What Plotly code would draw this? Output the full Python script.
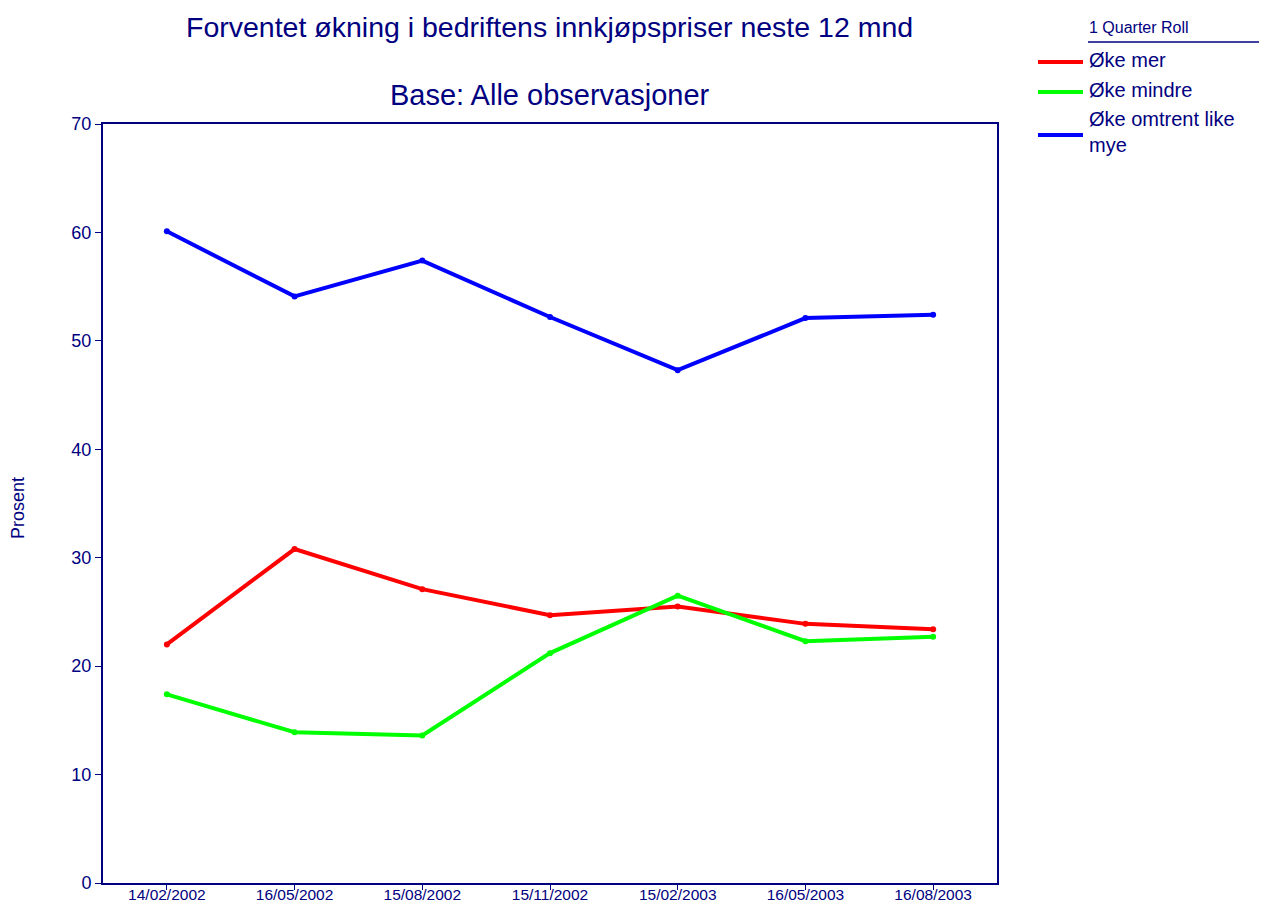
import plotly.graph_objects as go

dates = ["14/02/2002", "16/05/2002", "15/08/2002", "15/11/2002", "15/02/2003", "16/05/2003", "16/08/2003"]
oke_mer = [22.0, 30.8, 27.1, 24.7, 25.5, 23.9, 23.4]
oke_mindre = [17.4, 13.9, 13.6, 21.2, 26.5, 22.3, 22.7]
oke_like = [60.1, 54.1, 57.4, 52.2, 47.3, 52.1, 52.4]
y_ticks = [0, 10, 20, 30, 40, 50, 60, 70]
series_names = ["Øke mer", "Øke mindre", "Øke omtrent like<br>mye"]
series_colors = ["#ff0000", "#00ff00", "#0000ff"]

NAVY = "#000080"
FONT = "Liberation Sans, Arial, sans-serif"

# page body has an 8px margin; compensate so plot area sits at x 103-997, y 124-883
OFF = 8
W, H = 1267 - OFF, 905 - OFF
L, T, R, B = 103 - OFF, 124 - OFF, 1267 - 997, 905 - 883
PW, PH = 997 - 103, 883 - 124


def px(x):
    return (x - 103) / PW


def py(y):
    return (883 - y) / PH


fig = go.Figure()
for name, vals, col in zip(series_names, [oke_mer, oke_mindre, oke_like], series_colors):
    fig.add_trace(go.Scatter(x=list(range(len(dates))), y=vals, name=name,
                             mode="lines+markers",
                             line=dict(color=col, width=4),
                             marker=dict(color=col, size=6),
                             showlegend=False))

annotations = [
    dict(text="Forventet økning i bedriftens innkjøpspriser neste 12 mnd",
         xref="paper", yref="paper", x=px(549), y=py(27), xanchor="center", yanchor="middle",
         showarrow=False, font=dict(size=28.5, color=NAVY)),
    dict(text="Base: Alle observasjoner",
         xref="paper", yref="paper", x=px(550), y=py(95), xanchor="center", yanchor="middle",
         showarrow=False, font=dict(size=29, color=NAVY)),
    dict(text="1 Quarter Roll", xref="paper", yref="paper",
         x=px(1087), y=py(27), xanchor="left", yanchor="middle",
         showarrow=False, font=dict(size=16, color=NAVY)),
    dict(text="Prosent", xref="paper", yref="paper", textangle=-90,
         x=px(18), y=py(508), xanchor="center", yanchor="middle",
         showarrow=False, font=dict(size=18, color=NAVY)),
]
shapes = [dict(type="line", xref="paper", yref="paper",
               x0=px(1088), x1=px(1267), y0=py(42), y1=py(42),
               line=dict(color=NAVY, width=1.5))]

legend_line_y = [62, 92, 135]
legend_text_y = [60, 90, 132]
for name, col, ly, ty in zip(series_names, series_colors, legend_line_y, legend_text_y):
    shapes.append(dict(type="line", xref="paper", yref="paper",
                       x0=px(1038), x1=px(1083), y0=py(ly), y1=py(ly),
                       line=dict(color=col, width=4)))
    annotations.append(dict(text=name, xref="paper", yref="paper",
                            x=px(1087), y=py(ty), xanchor="left", yanchor="middle",
                            align="left", showarrow=False,
                            font=dict(size=20, color=NAVY)))

fig.update_layout(
    width=W, height=H,
    margin=dict(l=L, r=R, t=T, b=B),
    paper_bgcolor="white", plot_bgcolor="white",
    font=dict(family=FONT, color=NAVY),
    showlegend=False,
    xaxis=dict(range=[-0.5, 6.5], tickmode="array", tickvals=list(range(len(dates))),
               ticktext=dates, showgrid=False, zeroline=False,
               showline=True, linecolor=NAVY, linewidth=2, mirror=True,
               ticks="outside", ticklen=5, tickcolor=NAVY, tickwidth=1,
               ticklabelstandoff=-9,
               tickfont=dict(size=15.5, color=NAVY), automargin=False),
    yaxis=dict(range=[0, 70], tickmode="array", tickvals=y_ticks,
               showgrid=False, zeroline=False,
               showline=True, linecolor=NAVY, linewidth=2, mirror=True,
               ticks="outside", ticklen=6, tickcolor=NAVY, tickwidth=1,
               tickfont=dict(size=18, color=NAVY), automargin=False),
    annotations=annotations,
    shapes=shapes,
)

fig.write_html("out.html")
